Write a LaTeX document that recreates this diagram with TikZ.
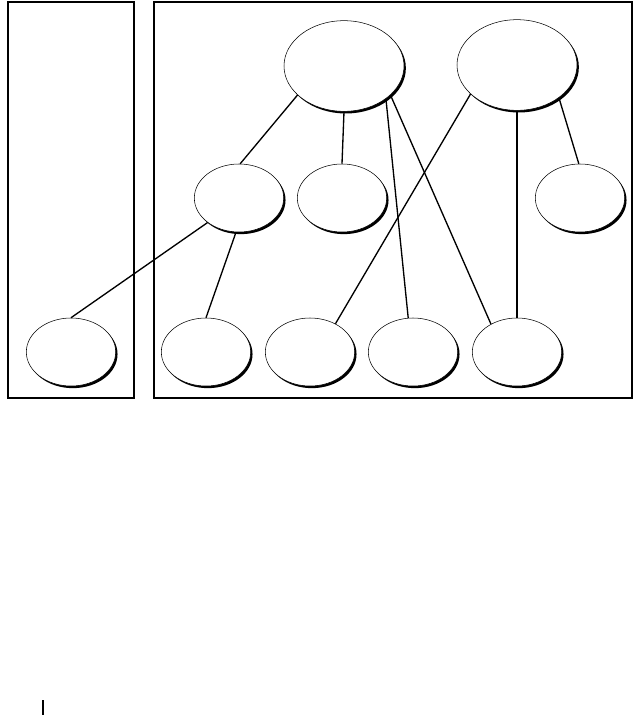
\documentclass[tikz,border=0pt]{standalone}
\usetikzlibrary{shapes.geometric,shadows}
\begin{document}
\begin{tikzpicture}[x=0.75pt,y=-0.75pt,
  obj/.style={ellipse,draw=black,line width=0.4pt,fill=white,inner sep=0pt,
    drop shadow={shadow xshift=1.4pt,shadow yshift=-1.6pt,fill=black,opacity=1}},
  big/.style={obj,minimum width=90pt,minimum height=68pt},
  small/.style={obj,minimum width=67pt,minimum height=51pt},
  conn/.style={line width=1pt},
  frame/.style={draw=black,line width=0.9pt}]
\useasboundingbox (0,0) rectangle (641,715);
\draw[frame] (8,2) rectangle (134,398);
\draw[frame] (154,2) rectangle (632,398);
\node[big] (A) at (344,66) {};
\node[big] (B) at (517,65) {};
\node[small] (C) at (239,198) {};
\node[small] (D) at (342,198) {};
\node[small] (E) at (580,198) {};
\node[small] (F) at (71,352) {};
\node[small] (G) at (206,352) {};
\node[small] (H) at (310,352) {};
\node[small] (I) at (413,352) {};
\node[small] (J) at (517,352) {};
\draw[conn] (A.212) -- (C.88);
\draw[conn] (A.270) -- (D.90);
\draw[conn] (A.322) -- (I.98);
\draw[conn] (A.328) -- (J.133);
\draw[conn] (B.212) -- (H.48);
\draw[conn] (B.270) -- (J.90);
\draw[conn] (B.322) -- (E.92);
\draw[conn] (C.218) -- (F.90);
\draw[conn] (C.265) -- (G.90);
\coordinate (t1) at (43,700);
\coordinate (t2) at (43,715);
\draw[line width=0.9pt] (t1) -- (t2);
\end{tikzpicture}
\end{document}
